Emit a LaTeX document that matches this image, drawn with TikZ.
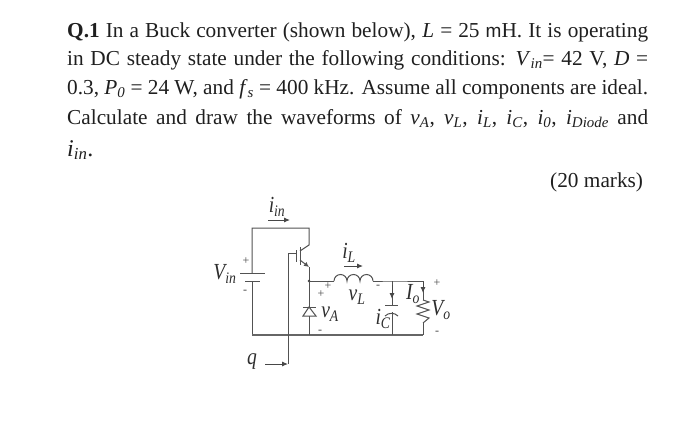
\documentclass[tikz,border=0pt]{standalone}
\usepackage{fontspec}
\setmainfont{Liberation Serif}
\setsansfont{Liberation Sans}
\usetikzlibrary{arrows.meta}
\newcommand{\sbs}[1]{\textsubscript{\textit{#1}}}
\tikzset{
	textline/.style={anchor=base west,inner sep=0pt,text=black!88,font=\fontsize{21.3}{25}\selectfont},
	wire/.style={draw=black!68,line width=1pt},
	rail/.style={draw=black!60,line width=1.5pt},
	flow/.style={draw=black!72,line width=0.9pt,-{Latex[length=6pt,width=5pt]}},
	symb/.style={inner sep=0pt,text=black!82,xscale=0.85,font=\fontsize{23}{24}\selectfont\itshape},
	sign/.style={inner sep=0pt,text=black!72,font=\fontsize{12}{12}\selectfont}
}
\begin{document}
\begin{tikzpicture}[x=1pt,y=-1pt]
	\useasboundingbox (0,0) rectangle (700,437);
	\node[textline] (line1) at (67,37) {\makebox[581pt][s]{\textbf{Q.1} In a Buck converter (shown below), \textit{L} = 25 {\sffamily\fontsize{19}{25}\selectfont m}H. It is operating}};
	\node[textline] (line2) at (67,65) {\makebox[581pt][s]{in DC steady state under the following conditions: \textit{V}\sbs{in}= 42 V, \textit{D} =}};
	\node[textline] (line3) at (67,94) {\makebox[581pt][s]{0.3, \textit{P}\sbs{0} = 24 W, and \textit{f}\sbs{s} = 400 kHz. Assume all components are ideal.}};
	\node[textline] (line4) at (67,124) {\makebox[581pt][s]{Calculate and draw the waveforms of \textit{v}\sbs{A}, \textit{v}\sbs{L}, \textit{i}\sbs{L}, \textit{i}\sbs{C}, \textit{i}\sbs{0}, \textit{i}\sbs{Diode} and}};
	\node[textline,font=\fontsize{24}{25}\selectfont] (line5) at (67,156) {\textit{i}\sbs{in}.};
	\node[textline] (marks) at (550,187) {(20 marks)};

	\coordinate (topleft) at (252,228);
	\coordinate (topswitch) at (309,228);
	\coordinate (botleft) at (252,335);
	\coordinate (botswitch) at (309,335);
	\coordinate (botcap) at (392,335);
	\coordinate (botload) at (423,335);
	\coordinate (battplus) at (252,273);
	\coordinate (battminus) at (252,281);
	\coordinate (collector) at (309,245);
	\coordinate (emitter) at (309,267);
	\coordinate (igbtc) at (300,251);
	\coordinate (igbte) at (300,260);
	\coordinate (gate) at (296,253);
	\coordinate (gatecorner) at (288,253);
	\coordinate (gatefoot) at (288,364);
	\coordinate (qstart) at (265,364);
	\coordinate (midnode) at (309,281);
	\coordinate (indin) at (334,281);
	\coordinate (indout) at (373,281);
	\coordinate (captop) at (392,281);
	\coordinate (loadtop) at (423,281);
	\coordinate (capplate) at (392,305);
	\coordinate (capcurve) at (392,312);
	\coordinate (resin) at (423,300);
	\coordinate (resout) at (423,323);
	\coordinate (diodebar) at (309,307);
	\coordinate (diodebase) at (309,316);

	\draw[wire] (battplus) -- (topleft) -- (topswitch) -- (collector) -- (igbtc);
	\draw[wire] (battminus) -- (botleft);
	\draw[rail] (botleft) -- (botload);
	\draw[wire] (240,273) -- (265,273);
	\draw[wire] (245,281) -- (260,281);
	\draw[wire] (300,247) -- (300,265);
	\draw[wire] (296,250) -- (296,262);
	\draw[wire,-{Latex[length=5pt,width=5pt]}] (igbte) -- (emitter);
	\draw[wire] (emitter) -- (midnode) -- (indin);
	\draw[wire] (gate) -- (gatecorner) -- (gatefoot);
	\draw[flow] (qstart) -- (gatefoot);
	\fill[black!75] (midnode) circle[radius=1.4pt];

	\draw[wire] (indin) arc[start angle=180,end angle=0,radius=6.5pt] arc[start angle=180,end angle=0,radius=6.5pt] arc[start angle=180,end angle=0,radius=6.5pt];
	\draw[wire] (indout) -- (captop) -- (loadtop) -- (resin);
	\draw[wire] (resout) -- (botload);
	\draw[wire] (resin) -- ++(6,2) -- ++(-12,4) -- ++(12,4) -- ++(-12,4) -- ++(12,4) -- ++(-6,5) -- (resout);

	\draw[wire] (captop) -- (capplate);
	\draw[wire] (385,305) -- (398,305);
	\draw[wire] (385,316) to[bend left=45] (398,316);
	\draw[wire] (capcurve) -- (botcap);
	\draw[flow] (392,285) -- (392,299);
	\draw[flow] (423,282) -- (423,293);

	\draw[wire] (midnode) -- (diodebar);
	\draw[wire] (diodebase) -- (botswitch);
	\draw[wire] (303,307) -- (316,307);
	\draw[wire] (303,316) -- (316,316) -- (diodebar) -- cycle;

	\draw[flow] (268,220) -- (290,220);
	\draw[flow] (344,266) -- (363,266);

	\node[symb] (iin) at (277,207) {i\sbs{in}};
	\node[symb] (il) at (349,253) {i\sbs{L}};
	\node[symb] (vin) at (225,274) {V\sbs{in}};
	\node[symb] (vl) at (357,297) {v\sbs{L}};
	\node[symb] (va) at (330,314) {v\sbs{A}};
	\node[symb] (ic) at (383,319) {i\sbs{C}};
	\node[symb] (io) at (413,294) {I\sbs{o}};
	\node[symb] (vo) at (441,310) {V\sbs{o}};
	\node[symb] (q) at (252,362) {q};

	\node[sign] (vinplus) at (246,261) {+};
	\node[sign] (vinminus) at (245,292) {-};
	\node[sign] (vlplus) at (328,286) {+};
	\node[sign] (vaplus) at (321,294) {+};
	\node[sign] (vlminus) at (378,287) {-};
	\node[sign] (vaminus) at (320,332) {-};
	\node[sign] (voplus) at (437,283) {+};
	\node[sign] (vominus) at (437,333) {-};
\end{tikzpicture}
\end{document}
